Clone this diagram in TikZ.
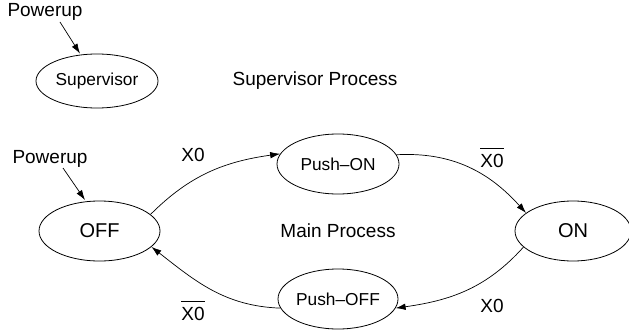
\documentclass[tikz,border=0pt]{standalone}
\usepackage{fontspec}
\setmainfont{Liberation Sans}
\usetikzlibrary{shapes.geometric,arrows.meta}
\newcommand\ovlbl[1]{$\overline{\mbox{\rule{0pt}{18.5pt}#1}}$}
\begin{document}
\begin{tikzpicture}[x=1pt,y=1pt,
  state/.style={draw,ellipse,line width=0.8pt,inner sep=0pt,minimum width=121pt,minimum height=60pt},
  lbl/.style={inner sep=0pt,font=\fontsize{19}{22}\selectfont},
  small/.style={font=\fontsize{17.3}{20}\selectfont},
  big/.style={font=\fontsize{20}{24}\selectfont},
  conn/.style={line width=0.7pt,-{Latex[length=10pt,width=6.5pt]}}]
\useasboundingbox (0,0) rectangle (629,330);
% Supervisor process
\node[state,small,minimum height=54pt,minimum width=122pt] (sup) at (97,249) {Supervisor};
\node[lbl] (pw1) at (45,318) {Powerup};
\coordinate (pw1s) at (60,308);
\draw[conn] (pw1s) -- (sup.north -| 80,0);
\node[lbl] (supp) at (315,249) {Supervisor Process};
% Main process
\node[state,big] (off) at (99.5,99) {OFF};
\node[state,small,minimum width=122pt] (pon) at (338,166) {Push--ON};
\node[state,big,minimum width=116pt] (on) at (573,99) {ON};
\node[state,small,minimum width=120pt] (poff) at (338,31) {Push--OFF};
\node[lbl] (mainp) at (338,99) {Main Process};
\node[lbl] (pw2) at (50,171) {Powerup};
\coordinate (pw2s) at (63,162);
\coordinate (pw2e) at (85,130);
\draw[conn] (pw2s) -- (pw2e);
% transitions
\draw[conn] (off.18) to[out=45,in=188] (pon.170);
\draw[conn] (pon.9) to[out=3,in=132] (on.159);
\draw[conn] (on.198) to[out=228,in=8] (poff.351);
\draw[conn] (poff.189) to[out=178,in=322] (off.343);
% labels
\node[lbl] (l1) at (193,175) {X0};
\node[lbl] (l2) at (492,172.5) {\ovlbl{X0}};
\node[lbl] (l3) at (492,24) {X0};
\node[lbl] (l4) at (193,19.5) {\ovlbl{X0}};
\end{tikzpicture}
\end{document}
